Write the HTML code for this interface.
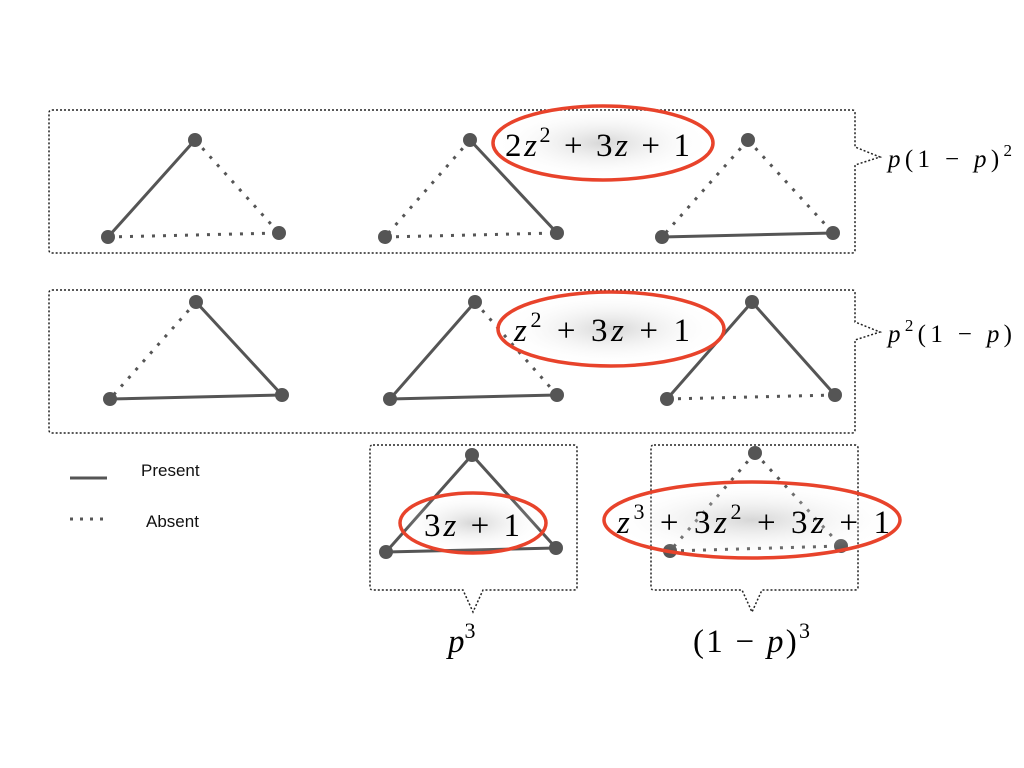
<!DOCTYPE html>
<html><head><meta charset="utf-8"><style>
html,body{margin:0;padding:0;background:#fff;width:1024px;height:768px;overflow:hidden}
.m{font-family:"Liberation Serif",serif;fill:#000}
.i{font-style:italic}
</style></head><body>
<svg width="1024" height="768" viewBox="0 0 1024 768">
<defs>
<radialGradient id="g" cx="50%" cy="50%" r="50%"><stop offset="0" stop-color="#bbb" stop-opacity="0.6"/><stop offset="1" stop-color="#fff" stop-opacity="0"/></radialGradient>
</defs>
<g fill="none" stroke="#222" stroke-width="1.5" stroke-dasharray="2,2">
<path d="M52,110 H852 Q855,110 855,113 V147 L880,157 L855,165 V250 Q855,253 852,253 H52 Q49,253 49,250 V113 Q49,110 52,110Z"/>
<path d="M52,290 H852 Q855,290 855,293 V322 L880,332 L855,340 V430 Q855,433 852,433 H52 Q49,433 49,430 V293 Q49,290 52,290Z"/>
<path d="M373,445 H574 Q577,445 577,448 V587 Q577,590 574,590 H483 L473,612 L463,590 H373 Q370,590 370,587 V448 Q370,445 373,445Z"/>
<path d="M654,445 H855 Q858,445 858,448 V587 Q858,590 855,590 H762 L752,612 L742,590 H654 Q651,590 651,587 V448 Q651,445 654,445Z"/>
</g>
<g id="tri"></g>
<g>
<line x1="70" y1="478" x2="107" y2="478" stroke="#555" stroke-width="3"/>
<text x="141" y="476" font-family="Liberation Sans, sans-serif" font-size="17" fill="#111">Present</text>
<line x1="70" y1="519" x2="107" y2="519" stroke="#555" stroke-width="3" stroke-dasharray="3,7"/>
<text x="146" y="527" font-family="Liberation Sans, sans-serif" font-size="17" fill="#111">Absent</text>
</g>
<g>
<ellipse cx="603" cy="143" rx="110" ry="37" fill="url(#g)" stroke="#e8432b" stroke-width="3.5"/>
<ellipse cx="611" cy="329" rx="113" ry="37" fill="url(#g)" stroke="#e8432b" stroke-width="3.5"/>
<ellipse cx="473" cy="523" rx="73" ry="30" fill="url(#g)" stroke="#e8432b" stroke-width="3.5"/>
<ellipse cx="752" cy="520" rx="148" ry="38" fill="url(#g)" stroke="#e8432b" stroke-width="3.5"/>
</g>
<g class="m" font-size="33">
<text x="505" y="156" textLength="185" lengthAdjust="spacing"><tspan>2</tspan><tspan class="i">z</tspan><tspan font-size="22" dy="-14">2</tspan><tspan dy="14"> + 3</tspan><tspan class="i">z</tspan><tspan> + 1</tspan></text>
<text x="514" y="341" textLength="176" lengthAdjust="spacing"><tspan class="i">z</tspan><tspan font-size="22" dy="-14">2</tspan><tspan dy="14"> + 3</tspan><tspan class="i">z</tspan><tspan> + 1</tspan></text>
<text x="424" y="536" textLength="96" lengthAdjust="spacing"><tspan>3</tspan><tspan class="i">z</tspan><tspan> + 1</tspan></text>
<text x="617" y="533" textLength="273" lengthAdjust="spacing"><tspan class="i">z</tspan><tspan font-size="22" dy="-14">3</tspan><tspan dy="14"> + 3</tspan><tspan class="i">z</tspan><tspan font-size="22" dy="-14">2</tspan><tspan dy="14"> + 3</tspan><tspan class="i">z</tspan><tspan> + 1</tspan></text>
</g>
<g class="m" font-size="25">
<text x="888" y="167" textLength="124" lengthAdjust="spacing"><tspan class="i">p</tspan>(1 − <tspan class="i">p</tspan>)<tspan font-size="17" dy="-11">2</tspan></text>
<text x="888" y="342" textLength="124" lengthAdjust="spacing"><tspan class="i">p</tspan><tspan font-size="17" dy="-11">2</tspan><tspan dy="11">(1 − </tspan><tspan class="i">p</tspan>)</text>
</g>
<g class="m" font-size="33">
<text x="448" y="652"><tspan class="i">p</tspan><tspan font-size="22" dy="-14">3</tspan></text>
<text x="693" y="652" textLength="117" lengthAdjust="spacing">(1 − <tspan class="i">p</tspan>)<tspan font-size="22" dy="-14">3</tspan></text>
</g>
</svg>
<script>
// triangles: [topX,topY,leftX,leftY,rightX,rightY, topLeftSolid, topRightSolid, bottomSolid]
const tris=[
[195,140,108,237,279,233,1,0,0],
[470,140,385,237,557,233,0,1,0],
[748,140,662,237,833,233,0,0,1],
[196,302,110,399,282,395,0,1,1],
[475,302,390,399,557,395,1,0,1],
[752,302,667,399,835,395,1,1,0],
[472,455,386,552,556,548,1,1,1],
[755,453,670,551,841,546,0,0,0]];
const ns="http://www.w3.org/2000/svg",g=document.getElementById('tri');
tris.forEach((t,k)=>{
 const grp=document.createElementNS(ns,'g');
 
 
 const P=[[t[0],t[1]],[t[2],t[3]],[t[4],t[5]]];
 [[0,1,t[6]],[0,2,t[7]],[1,2,t[8]]].forEach(e=>{
  const l=document.createElementNS(ns,'line');
  
  
  l.setAttribute('x1',P[e[0]][0]);l.setAttribute('y1',P[e[0]][1]);
  l.setAttribute('x2',P[e[1]][0]);l.setAttribute('y2',P[e[1]][1]);
  l.setAttribute('stroke','#555');l.setAttribute('stroke-width','3');
  if(!e[2])l.setAttribute('stroke-dasharray','3,8');
  grp.appendChild(l);
 });
 P.forEach(p=>{
  const c=document.createElementNS(ns,'circle');
  
  
  c.setAttribute('cx',p[0]);c.setAttribute('cy',p[1]);c.setAttribute('r','7');c.setAttribute('fill','#555');
  grp.appendChild(c);
 });
 g.appendChild(grp);
});
</script>
</body></html>
